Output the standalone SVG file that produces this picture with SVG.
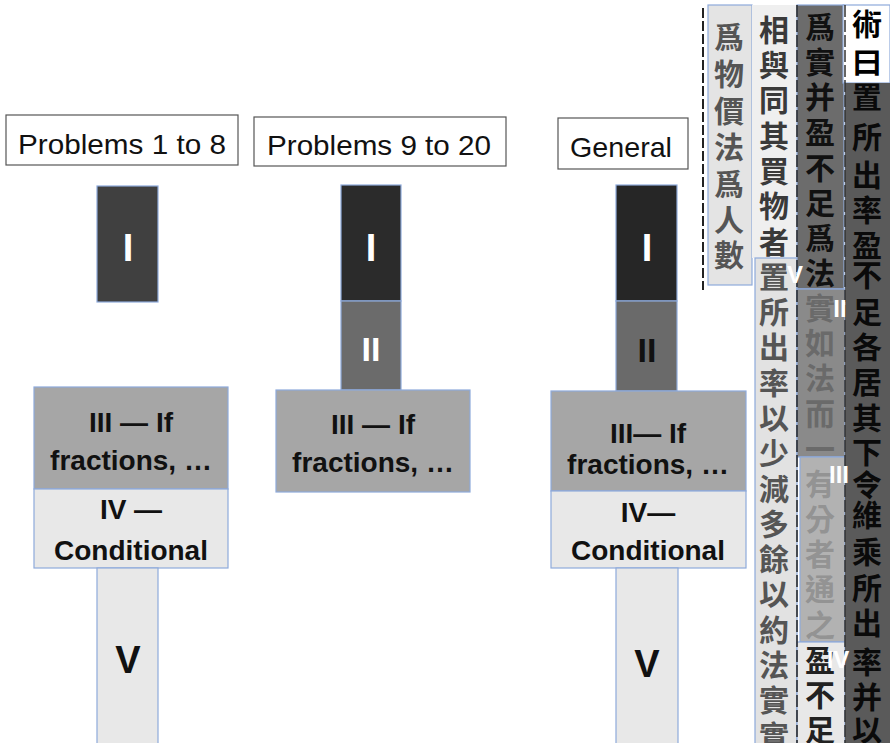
<svg xmlns="http://www.w3.org/2000/svg" width="890" height="743" viewBox="0 0 890 743">
<style>
.title{fill:#fff;stroke:#555;stroke-width:1.2}
.ttl{font-family:"Liberation Sans",Arial,sans-serif;font-size:28px;fill:#111;text-anchor:middle}
.blk{stroke:#8eaadb;stroke-width:1.2}
.lb{font-family:"Liberation Sans",Arial,sans-serif;font-weight:bold;text-anchor:middle}
.lbw{fill:#fff}
.lbd{fill:#111}
.cjk{font-family:"Noto Sans CJK TC","Noto Sans CJK SC",sans-serif;font-weight:bold;font-size:30px;text-anchor:middle}
.sl{font-family:"Liberation Sans",Arial,sans-serif;font-weight:bold;fill:#fff;text-anchor:middle;font-size:24px}
</style>
<rect width="890" height="743" fill="#fff"/>

<g id="col1">
  <g id="title1"><rect class="title" x="6" y="115" width="232" height="50"/><text class="ttl" x="122" y="154" textLength="208" lengthAdjust="spacingAndGlyphs">Problems 1 to 8</text></g>
  <g id="n1-I"><rect class="blk" x="97" y="186" width="61" height="116" fill="#404040"/><text class="lb lbw" x="128" y="261" font-size="38">I</text></g>
  <g id="n1-III"><rect class="blk" x="34" y="387" width="194" height="102" fill="#a6a6a6"/><text class="lb lbd" x="131" y="432" font-size="28">III — If</text><text class="lb lbd" x="131" y="470" font-size="28">fractions, …</text></g>
  <g id="n1-IV"><rect class="blk" x="34" y="489" width="194" height="79" fill="#e8e8e8"/><text class="lb lbd" x="131" y="519" font-size="28">IV —</text><text class="lb lbd" x="131" y="560" font-size="28">Conditional</text></g>
  <g id="n1-V"><rect class="blk" x="97" y="568" width="61" height="176" fill="#e8e8e8"/><text class="lb lbd" x="128" y="673" font-size="38">V</text></g>
</g>

<g id="col2">
  <g id="title2"><rect class="title" x="254" y="117" width="252" height="49"/><text class="ttl" x="379" y="155" textLength="224" lengthAdjust="spacingAndGlyphs">Problems 9 to 20</text></g>
  <g id="n2-I"><rect class="blk" x="341" y="185" width="60" height="116" fill="#2b2b2b"/><text class="lb lbw" x="371" y="261" font-size="38">I</text></g>
  <g id="n2-II"><rect class="blk" x="341" y="301" width="60" height="89" fill="#6b6b6b"/><text class="lb lbw" x="371" y="361" font-size="34">II</text></g>
  <g id="n2-III"><rect class="blk" x="276" y="390" width="194" height="102" fill="#a6a6a6"/><text class="lb lbd" x="373" y="434" font-size="28">III — If</text><text class="lb lbd" x="373" y="472" font-size="28">fractions, …</text></g>
</g>

<g id="col3">
  <g id="title3"><rect class="title" x="558" y="118" width="130" height="51"/><text class="ttl" x="621" y="157" textLength="102" lengthAdjust="spacingAndGlyphs">General</text></g>
  <g id="n3-I"><rect class="blk" x="616" y="185" width="61" height="116" fill="#262626"/><text class="lb lbw" x="647" y="261" font-size="38">I</text></g>
  <g id="n3-II"><rect class="blk" x="616" y="301" width="61" height="90" fill="#6a6a6a"/><text class="lb lbd" x="647" y="362" font-size="34">II</text></g>
  <g id="n3-III"><rect class="blk" x="551" y="391" width="195" height="100" fill="#a6a6a6"/><text class="lb lbd" x="648" y="443" font-size="28">III— If</text><text class="lb lbd" x="648" y="474" font-size="28">fractions, …</text></g>
  <g id="n3-IV"><rect class="blk" x="551" y="491" width="195" height="77" fill="#e8e8e8"/><text class="lb lbd" x="648" y="522" font-size="28">IV—</text><text class="lb lbd" x="648" y="560" font-size="28">Conditional</text></g>
  <g id="n3-V"><rect class="blk" x="616" y="568" width="62" height="176" fill="#e8e8e8"/><text class="lb lbd" x="647" y="677" font-size="38">V</text></g>
</g>

<g id="scan">
  <line x1="703" y1="8" x2="703" y2="290" stroke="#222" stroke-width="2" stroke-dasharray="10 3"/>
  <rect x="708" y="5" width="44" height="280" fill="#e4e4e4" stroke="#8eaadb" stroke-width="1.2"/>
  <rect x="752" y="5" width="45" height="253" fill="#efefef"/>
  <rect x="755" y="258" width="42" height="486" fill="#e2e2e2" stroke="#8eaadb" stroke-width="1.2"/>
  <rect x="797" y="5" width="47" height="284" fill="#6c6c6c" stroke="#8eaadb" stroke-width="1.2"/>
  <rect x="797" y="289" width="48" height="168" fill="#8a8a8a" stroke="#8eaadb" stroke-width="1.2"/>
  <rect x="800" y="457" width="45" height="185" fill="#b2b2b2" stroke="#8eaadb" stroke-width="1.2"/>
  <rect x="797" y="642" width="48" height="102" fill="#e8e8e8" stroke="#8eaadb" stroke-width="1.2"/>
  <rect x="843" y="5" width="47" height="78" fill="#fff" stroke="#8eaadb" stroke-width="1.2"/>
  <rect x="845" y="83" width="45" height="661" fill="#5a5a5a"/>
  <line x1="797" y1="5" x2="797" y2="743" stroke="#222" stroke-width="1.5" stroke-dasharray="12 3"/>
  <line x1="845" y1="5" x2="845" y2="743" stroke="#333" stroke-width="1.5" stroke-dasharray="12 3"/>

  <text class="cjk" fill="#555" x="729 729 729 729 729 729 729" y="48 85 122 158 195 231 266">爲物價法爲人數</text>
  <text class="cjk" fill="#3a3a3a" x="774 774 774 774 774 774 774" y="41 76 111 147 182 217 253">相與同其買物者</text>
  <text class="cjk" fill="#555" x="774 774 774 774 774 774 774 774 774 774 774 774 774 774" y="288 323 358 394 429 464 500 535 570 605 641 676 711 747">置所出率以少減多餘以約法實實</text>
  <text class="cjk" fill="#111" x="820 820 820 820 820 820 820 820" y="38 73 108 143 179 214 249 284">爲實并盈不足爲法</text>
  <text class="cjk" fill="#6a6a6a" x="820 820 820 820 820" y="319 354 389 425 460">實如法而一</text>
  <text class="cjk" fill="#939393" x="820 820 820 820 820" y="495 530 565 600 636">有分者通之</text>
  <text class="cjk" fill="#222" x="820 820 820" y="671 706 741">盈不足</text>
  <text class="cjk" fill="#000" x="867 867" y="35 73">術曰</text>
  <text class="cjk" fill="#0a0a0a" x="867 867 867 867 867 867 867 867 867 867 867 867 867 867 867 867 867 867 867" y="108 148 186 221 256 286 323 358 393 429 463 496 526 563 599 634 673 708 741">置所出率盈不足各居其下令維乘所出率并以</text>

  <text class="sl" x="795" y="283">V</text>
  <text class="sl" x="840" y="317">II</text>
  <text class="sl" x="839" y="483">III</text>
  <text class="sl" x="838" y="668">IV</text>
</g>
</svg>
